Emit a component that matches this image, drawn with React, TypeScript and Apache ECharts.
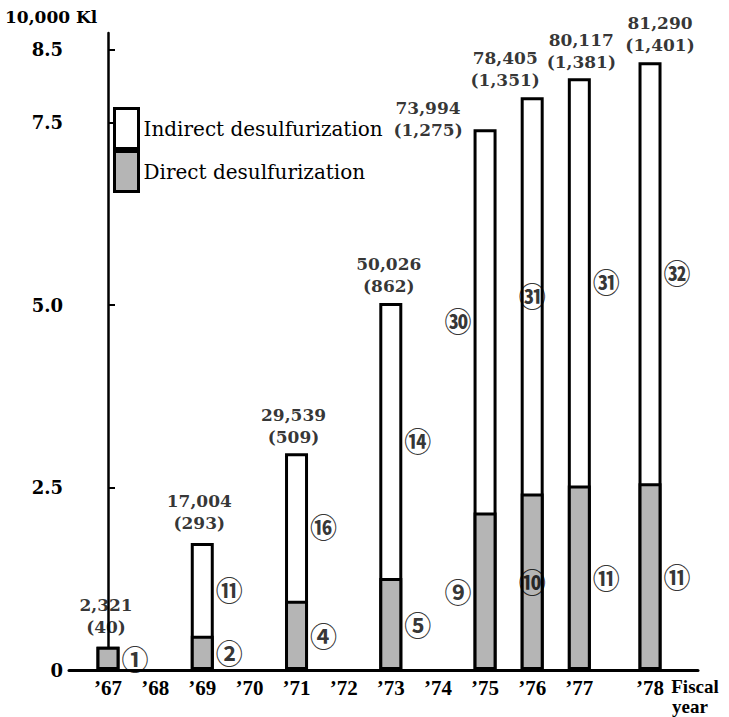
import React, { useEffect, useRef } from "react";
import * as echarts from "echarts";

// Axis tick labels (fiscal years) and their slots along the axis.
// The original leaves an extra half-year gap before '78.
const yearLabels = ["’67", "’68", "’69", "’70", "’71", "’72", "’73", "’74", "’75", "’76", "’77", "’78"];
const yearSlots = [0, 1, 2, 3, 4, 5, 6, 7, 8, 9, 10, 11.5];

// Bars
const barYears = ["’67", "’69", "’71", "’73", "’75", "’76", "’77", "’78"];
const directValues = [0.32, 0.47, 0.95, 1.26, 2.16, 2.42, 2.53, 2.56]; // 10,000 Kl
const indirectValues = [0, 1.27, 2.02, 3.77, 5.25, 5.43, 5.58, 5.77]; // 10,000 Kl
const capacityKl = ["2,321", "17,004", "29,539", "50,026", "73,994", "78,405", "80,117", "81,290"];
const capacityBbl = ["(40)", "(293)", "(509)", "(862)", "(1,275)", "(1,351)", "(1,381)", "(1,401)"];
const directPlants = [1, 2, 4, 5, 9, 10, 11, 11];
const indirectPlants = [0, 11, 16, 14, 30, 31, 31, 32];

const yTicks = [0, 2.5, 5, 7.5, 8.5];

// label placement (style)
const plantLabelSide = ["right", "right", "right", "right", "left", "inside", "right", "right"];
const topLabelOffset = [[-2, -3], [-3, -4], [-3, 0], [-2, 0], [-57, 17], [-27, -1], [2, 0], [10, -1]];

const circled = (n: number) => {
  if (!n) return "";
  return String.fromCodePoint(n <= 20 ? 0x245f + n : 0x3251 + (n - 21));
};

const slotOf = (label: string) => yearSlots[yearLabels.indexOf(label)];

export default function App() {
  const ref = useRef<HTMLDivElement>(null);

  useEffect(() => {
    document.body.style.margin = "0";
    if (!ref.current) return;
    const chart = echarts.init(ref.current, null, { renderer: "svg" });

    const serif = "DejaVu Serif";
    const BAR_W = 23;
    const BORDER = 3;

    const totals = directValues.map((d, i) => d + indirectValues[i]);

    const circledLabel = (plants: number[]) => ({
      show: true,
      fontFamily: "Noto Sans CJK JP",
      fontWeight: "bold",
      fontSize: 27,
      color: "#000",
      formatter: (p: any) => circled(plants[p.dataIndex]),
    });

    const sideLabel = (i: number) => {
      const side = plantLabelSide[i];
      return side === "inside"
        ? { position: "inside" }
        : { position: side, distance: BAR_W / 2 + BORDER / 2 };
    };

    const option: any = {
      animation: false,
      backgroundColor: "#fff",
      grid: { left: 69, right: 31, top: 33, bottom: 47 },
      xAxis: {
        type: "value",
        min: -0.8275,
        max: 12.518,
        splitLine: { show: false },
        axisLine: { show: true, onZero: false, lineStyle: { color: "#000", width: 3 } },
        axisTick: { show: false },
        axisLabel: {
          customValues: yearSlots,
          formatter: (v: number) => {
            const i = yearSlots.indexOf(v);
            return i >= 0 ? yearLabels[i] : "";
          },
          margin: 7,
          color: "#000",
          fontFamily: "Liberation Serif",
          fontWeight: "bold",
          fontSize: 21,
        },
      },
      yAxis: {
        type: "value",
        min: 0,
        max: 8.73,
        splitLine: { show: false },
        axisLine: { show: true, lineStyle: { color: "#000", width: 2.5 } },
        axisTick: {
          show: true,
          inside: true,
          length: 7,
          customValues: yTicks,
          lineStyle: { color: "#000", width: 2 },
        },
        axisLabel: {
          customValues: yTicks,
          formatter: (v: number) => (v === 0 ? "0" : v.toFixed(1)),
          margin: 6,
          color: "#000",
          fontFamily: serif,
          fontWeight: "bold",
          fontSize: 18,
        },
      },
      legend: {
        orient: "vertical",
        left: 113,
        top: 107,
        padding: 0,
        itemWidth: 24,
        itemHeight: 40,
        itemGap: 0,
        icon: "rect",
        selectedMode: false,
        data: ["Indirect desulfurization", "Direct desulfurization"],
        itemStyle: { borderColor: "#000", borderWidth: 3 },
        textStyle: { fontFamily: serif, fontSize: 20, color: "#000" },
      },
      series: [
        {
          // full bar (direct + indirect); the indirect part is what stays visible
          name: "Indirect desulfurization",
          type: "bar",
          barWidth: BAR_W,
          barGap: "-100%",
          z: 2,
          itemStyle: { color: "#fff", borderColor: "#000", borderWidth: BORDER },
          data: totals.map((t, i) => [slotOf(barYears[i]), t]),
        },
        {
          name: "Direct desulfurization",
          type: "bar",
          barWidth: BAR_W,
          barGap: "-100%",
          z: 3,
          itemStyle: { color: "#b5b5b5", borderColor: "#000", borderWidth: BORDER },
          data: directValues.map((v, i) => [slotOf(barYears[i]), v]),
        },
        {
          name: "directPlants",
          type: "scatter",
          silent: true,
          symbolSize: 1,
          itemStyle: { color: "rgba(0,0,0,0)" },
          z: 5,
          label: circledLabel(directPlants),
          data: directValues.map((v, i) => ({
            value: [slotOf(barYears[i]), v / 2],
            label: sideLabel(i),
          })),
        },
        {
          name: "indirectPlants",
          type: "scatter",
          silent: true,
          symbolSize: 1,
          itemStyle: { color: "rgba(0,0,0,0)" },
          z: 5,
          label: circledLabel(indirectPlants),
          data: indirectValues.map((v, i) => ({
            value: [slotOf(barYears[i]), directValues[i] + v / 2],
            label: sideLabel(i),
          })),
        },
        {
          name: "capacity",
          type: "scatter",
          silent: true,
          symbolSize: 1,
          itemStyle: { color: "rgba(0,0,0,0)" },
          z: 5,
          label: {
            show: true,
            position: "top",
            distance: 5,
            align: "center",
            lineHeight: 22,
            fontFamily: serif,
            fontWeight: "bold",
            fontSize: 17,
            color: "#000",
            formatter: (p: any) => capacityKl[p.dataIndex] + "\n" + capacityBbl[p.dataIndex],
          },
          data: barYears.map((y, i) => ({
            value: [slotOf(y), totals[i]],
            label: { offset: topLabelOffset[i] },
          })),
        },
      ],
      graphic: [
        {
          type: "text",
          left: 5,
          top: 8,
          style: {
            text: "10,000 Kl",
            fontFamily: serif,
            fontWeight: "bold",
            fontSize: 17,
            fill: "#000",
          },
        },
        {
          type: "text",
          x: 695,
          y: 686,
          style: {
            text: "Fiscal",
            align: "center",
            verticalAlign: "middle",
            fontFamily: "Liberation Serif",
            fontWeight: "bold",
            fontSize: 19,
            fill: "#000",
          },
        },
        {
          type: "text",
          x: 690,
          y: 706,
          style: {
            text: "year",
            align: "center",
            verticalAlign: "middle",
            fontFamily: "Liberation Serif",
            fontWeight: "bold",
            fontSize: 19,
            fill: "#000",
          },
        },
      ],
    };

    chart.setOption(option);
    return () => chart.dispose();
  }, []);

  return <div ref={ref} style={{ width: 729, height: 717 }} />;
}
